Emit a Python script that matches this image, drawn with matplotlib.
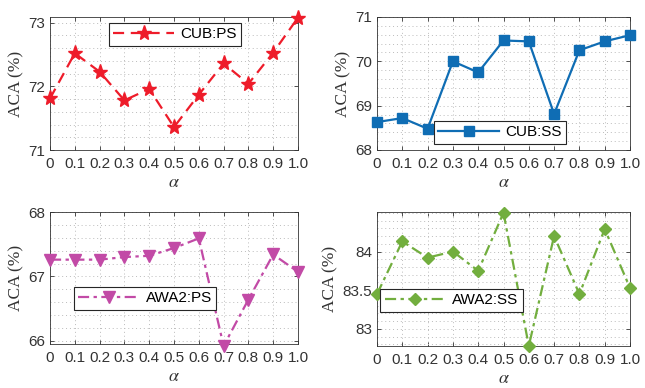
import numpy as np
import matplotlib
matplotlib.use("Agg")
import matplotlib.pyplot as plt
from matplotlib.ticker import MultipleLocator

alpha = [0, 0.1, 0.2, 0.3, 0.4, 0.5, 0.6, 0.7, 0.8, 0.9, 1.0]
xticklabels = ['0', '0.1', '0.2', '0.3', '0.4', '0.5', '0.6', '0.7', '0.8', '0.9', '1.0']

cub_ps = [71.81, 72.52, 72.23, 71.78, 71.96, 71.36, 71.87, 72.36, 72.04, 72.53, 73.08]
cub_ss = [68.63, 68.72, 68.48, 70.00, 69.75, 70.47, 70.45, 68.81, 70.25, 70.45, 70.59]
awa2_ps = [67.26, 67.26, 67.26, 67.30, 67.32, 67.44, 67.59, 65.92, 66.64, 67.34, 67.07]
awa2_ss = [83.45, 84.13, 83.92, 84.00, 83.75, 84.50, 82.78, 84.20, 83.45, 84.29, 83.53]

plt.rcParams['font.family'] = ['Liberation Sans', 'DejaVu Sans']
plt.rcParams['mathtext.fontset'] = 'stix'
plt.rcParams['xtick.direction'] = 'in'
plt.rcParams['ytick.direction'] = 'in'

fig = plt.figure(figsize=(6.45, 3.88), dpi=100)
W, H = 645.0, 388.0

def make_ax(x0, y0, x1, y1):
    return fig.add_axes([x0 / W, 1 - y1 / H, (x1 - x0) / W, (y1 - y0) / H])

panels = [
    # data, label, color, linestyle, marker, msize, box, ylim, yticks, minor, legend box
    (cub_ps, 'CUB:PS', '#EE1C2A', (0, (5, 3)), '*', 11, (50, 17, 298, 150), (71, 73.09), [71, 72, 73], 0.2, (113, 23, 237, 46)),
    (cub_ss, 'CUB:SS', '#0F6DB4', '-', 's', 6.5, (377, 17, 630, 150), (68, 71), [68, 69, 70, 71], 0.2, (441, 120, 559, 145)),
    (awa2_ps, 'AWA2:PS', '#C24AA6', (0, (5, 2, 1.5, 2)), 'v', 8.5, (50, 212, 298, 344), (65.95, 68), [66, 67, 68], 0.2, (78, 287, 212, 310)),
    (awa2_ss, 'AWA2:SS', '#72AE3E', (0, (5, 2, 1.5, 2)), 'D', 6.5, (377, 212, 630, 346), (82.78, 84.51), [83, 83.5, 84], 0.1, (384, 289, 519, 312)),
]

for data, label, color, ls, mk, ms, box, ylim, yt, minor, lbox in panels:
    ax = make_ax(*box)
    ax.plot(alpha, data, linestyle=ls, color=color, marker=mk, markersize=ms,
            linewidth=1.6, label=label, clip_on=False, zorder=3)
    ax.set_xlim(0, 1)
    ax.set_ylim(*ylim)
    ax.set_xticks(alpha)
    ax.set_xticklabels(xticklabels, fontsize=11, color='#333333')
    ax.set_yticks(yt)
    ax.set_yticklabels([('%g' % v) for v in yt], fontsize=11, color='#333333')
    ax.yaxis.set_minor_locator(MultipleLocator(minor))
    ax.tick_params(which='both', top=True, right=True, length=3, width=0.6, color='#333333')
    ax.tick_params(which='minor', length=0)
    ax.tick_params(axis='x', pad=5)
    ax.grid(True, which='both', linestyle=(0, (1, 3)), color='#BBBBBB', linewidth=0.7)
    for s in ax.spines.values():
        s.set_color('#333333')
        s.set_linewidth(0.6)
    ax.set_ylabel('ACA (%)', family=['Liberation Serif'], fontsize=12.5, color='#333333', labelpad=3)
    ax.set_xlabel(r'$\alpha$', fontsize=13, color='#333333', labelpad=2)
    lx0, ly0, lx1, ly1 = lbox
    bb = ((lx0 - box[0]) / (box[2] - box[0]), (box[3] - ly1) / (box[3] - box[1]),
          (lx1 - lx0) / (box[2] - box[0]), (ly1 - ly0) / (box[3] - box[1]))
    leg = ax.legend(loc='center', bbox_to_anchor=bb, fontsize=11, frameon=True,
                    fancybox=False, edgecolor='#262626', framealpha=1,
                    handlelength=4.0, borderpad=0.3, handletextpad=0.4, borderaxespad=0)
    leg.get_frame().set_linewidth(0.8)
    leg.set_zorder(5)

fig.savefig('out.png', dpi=100)
